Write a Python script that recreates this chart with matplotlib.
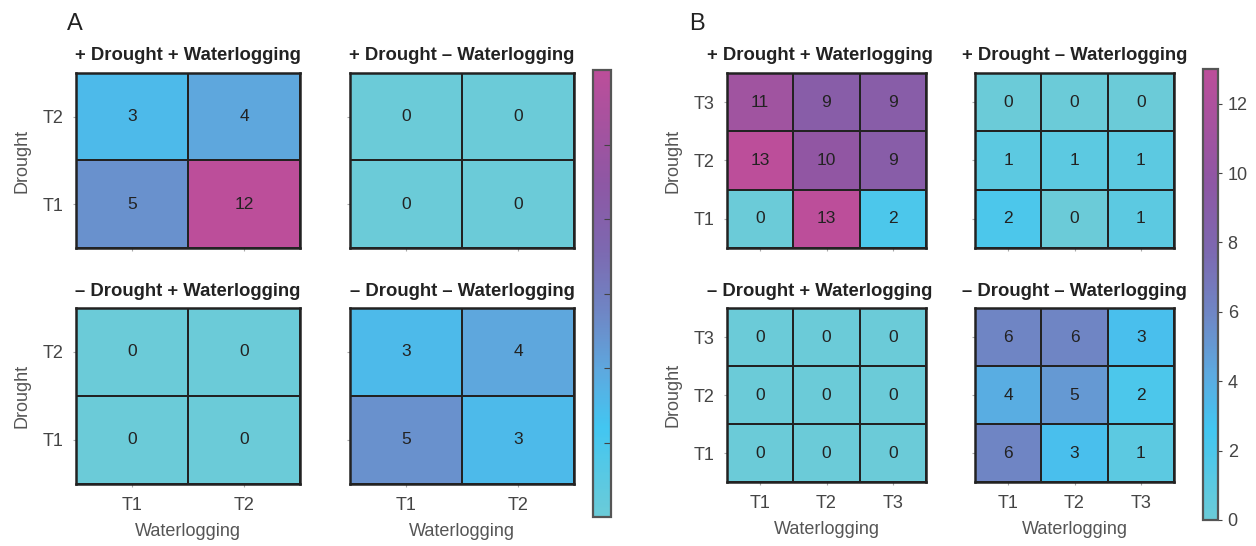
import numpy as np
import matplotlib.pyplot as plt
from matplotlib.colors import LinearSegmentedColormap, Normalize
from matplotlib.cm import ScalarMappable

plt.rcParams['font.family'] = ['Liberation Sans', 'DejaVu Sans']

# panel A: two treatment levels, rows = Drought (T1 bottom), cols = Waterlogging
levels_a = ['T1', 'T2']
a_pd_pw = [[5, 12], [3, 4]]
a_pd_mw = [[0, 0], [0, 0]]
a_md_pw = [[0, 0], [0, 0]]
a_md_mw = [[5, 3], [3, 4]]

# panel B: three treatment levels
levels_b = ['T1', 'T2', 'T3']
b_pd_pw = [[0, 13, 2], [13, 10, 9], [11, 9, 9]]
b_pd_mw = [[2, 0, 1], [1, 1, 1], [0, 0, 0]]
b_md_pw = [[0, 0, 0], [0, 0, 0], [0, 0, 0]]
b_md_mw = [[6, 3, 1], [4, 5, 2], [6, 6, 3]]

titles = ['+ Drought + Waterlogging', '+ Drought \u2013 Waterlogging',
          '\u2013 Drought + Waterlogging', '\u2013 Drought \u2013 Waterlogging']

cmap = LinearSegmentedColormap.from_list('cyan_magenta', [
    (0.0, '#6BCBD8'), (0.2, '#42C6F1'), (0.32, '#5CAAE0'), (0.45, '#6E88C6'),
    (0.6, '#7D68B0'), (0.75, '#8E57A4'), (1.0, '#BC4E9A')])

W, H = 1256, 546
fig = plt.figure(figsize=(W / 100, H / 100), dpi=100)


def rect(x0, y0, x1, y1):
    return [x0 / W, 1 - y1 / H, (x1 - x0) / W, (y1 - y0) / H]


def heat(box, data, labels, norm, title, left, bottom, title_x=0.5):
    ax = fig.add_axes(rect(*box))
    data = np.array(data)
    n = len(labels)
    ax.pcolormesh(np.arange(n + 1), np.arange(n + 1), data, cmap=cmap, norm=norm,
                  edgecolors='#222222', linewidth=1.4)
    for i in range(n):
        for j in range(n):
            ax.text(j + 0.5, i + 0.5, str(data[i, j]), ha='center', va='center',
                    fontsize=12.5, color='#222222')
    ax.set_xlim(0, n)
    ax.set_ylim(0, n)
    ax.set_xticks(np.arange(n) + 0.5)
    ax.set_yticks(np.arange(n) + 0.5)
    ax.tick_params(length=2, color='#aaaaaa', labelsize=13, labelcolor='#444444', pad=7)
    ax.set_xticklabels(labels if bottom else [])
    ax.set_yticklabels(labels if left else [])
    if left:
        ax.set_ylabel('Drought', fontsize=13, color='#555555', labelpad=9)
    if bottom:
        ax.set_xlabel('Waterlogging', fontsize=13, color='#555555', labelpad=7)
    for s in ax.spines.values():
        s.set_linewidth(1.8)
        s.set_color('#222222')
    ax.set_title(title, fontsize=13.3, fontweight='bold', color='#222222', pad=9, x=title_x)
    return ax


norm_a = Normalize(0, 12)
norm_b = Normalize(0, 13)

boxes_a = [(76, 73, 300, 248), (350, 73, 574, 248), (76, 308, 300, 484), (350, 308, 574, 484)]
boxes_b = [(727, 73, 926, 248), (975, 73, 1174, 248), (727, 308, 926, 482), (975, 308, 1174, 482)]
data_a = [a_pd_pw, a_pd_mw, a_md_pw, a_md_mw]
data_b = [b_pd_pw, b_pd_mw, b_md_pw, b_md_mw]

for k in range(4):
    left = k % 2 == 0
    heat(boxes_a[k], data_a[k], levels_a, norm_a, titles[k], left, k >= 2)
    # left-hand titles in B sit a little left of centre
    heat(boxes_b[k], data_b[k], levels_b, norm_b, titles[k], left, k >= 2,
         title_x=0.465 if left else 0.5)

# colour bars
cax_a = fig.add_axes(rect(593, 70, 611, 517))
cb_a = fig.colorbar(ScalarMappable(norm=norm_a, cmap=cmap), cax=cax_a)
cb_a.set_ticks([2, 4, 6, 8, 10])
cb_a.ax.tick_params(direction='in', length=5, color='#444444', labelright=False)
cb_a.outline.set_edgecolor('#555555')
cb_a.outline.set_linewidth(1.6)

cax_b = fig.add_axes(rect(1203, 69, 1218, 520))
cb_b = fig.colorbar(ScalarMappable(norm=norm_b, cmap=cmap), cax=cax_b)
cb_b.set_ticks([0, 2, 4, 6, 8, 10, 12])
cb_b.ax.tick_params(length=3, color='#444444', labelsize=13, labelcolor='#444444', pad=4)
cb_b.outline.set_edgecolor('#555555')
cb_b.outline.set_linewidth(1.6)

fig.text(67 / W, 1 - 30 / H, 'A', fontsize=17, color='#222222')
fig.text(689 / W, 1 - 30 / H, 'B', fontsize=17, color='#222222')

fig.savefig('out.png', dpi=100)
